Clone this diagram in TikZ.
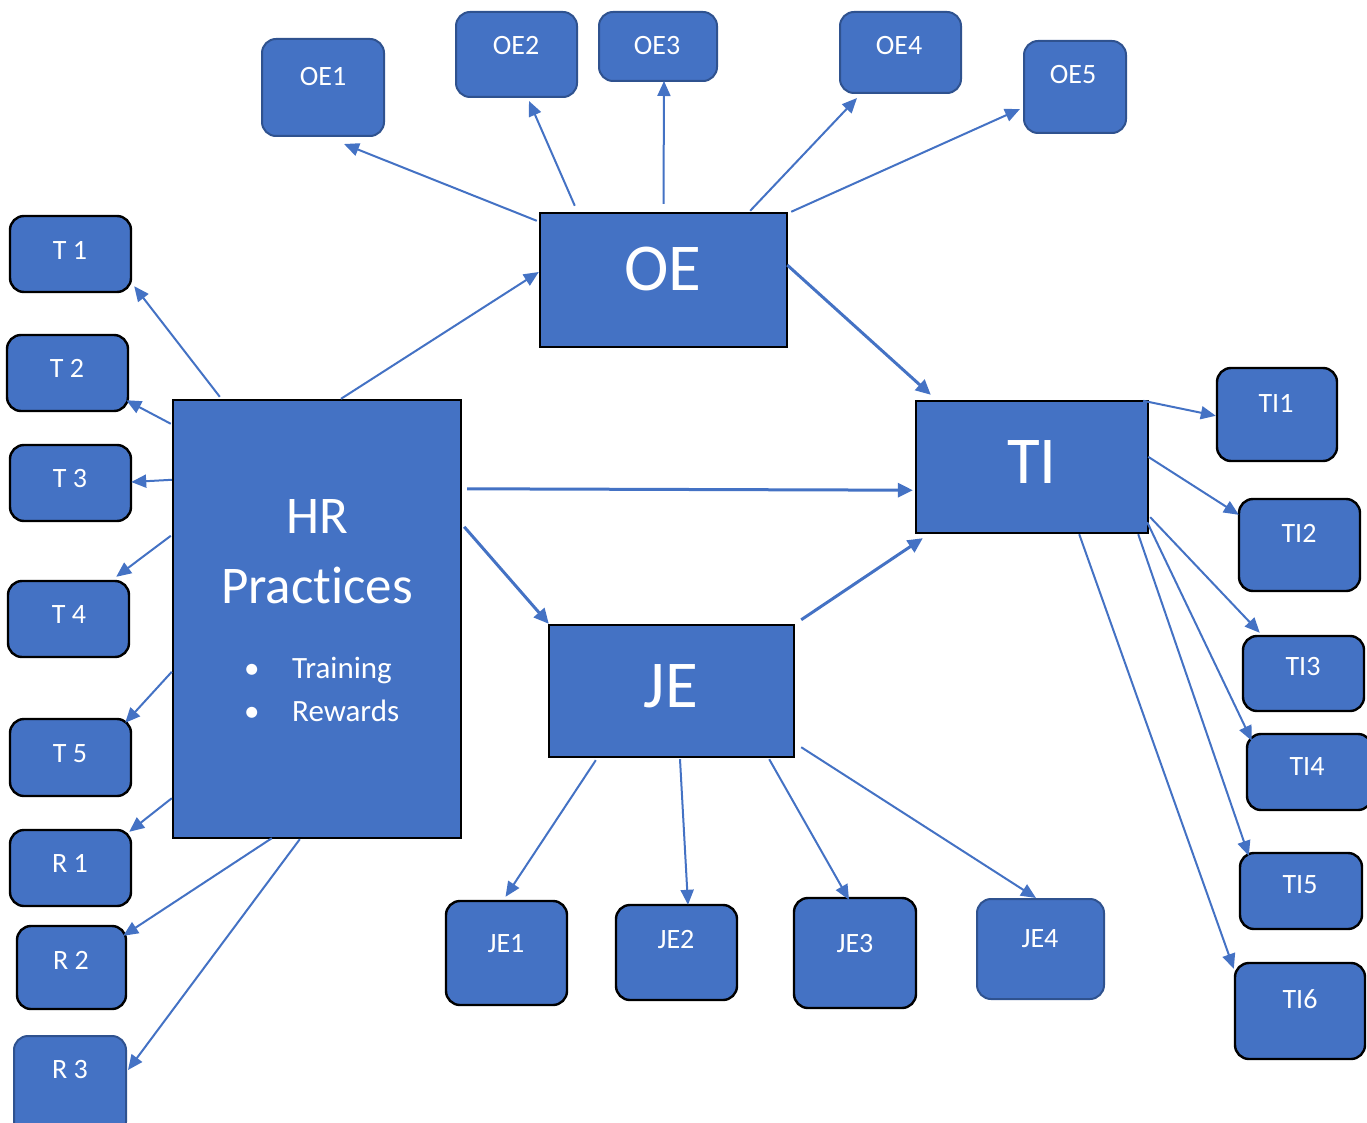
\documentclass[tikz,border=0pt]{standalone}
\usepackage{fontspec}
\setmainfont[Ligatures=CommonOff]{Carlito}
\usetikzlibrary{arrows.meta,calc}
\definecolor{bfill}{HTML}{4472C4}
\definecolor{bdark}{HTML}{2F528F}
\tikzset{
  sbk/.style={draw=black, line width=2.4pt, fill=bfill, rounded corners=14pt, inner sep=0pt},
  sbl/.style={draw=bdark, line width=2pt, fill=bfill, rounded corners=14pt, inner sep=0pt},
  bigbox/.style={draw=black, line width=2.4pt, fill=bfill, inner sep=0pt},
  lbl/.style={text=white, anchor=base, inner sep=0pt, font=\fontsize{28}{28}\selectfont},
  biglbl/.style={text=white, anchor=base, inner sep=0pt, font=\fontsize{67}{67}\selectfont},
  hrlbl/.style={text=white, anchor=base, inner sep=0pt, font=\fontsize{53}{53}\selectfont},
  itemlbl/.style={text=white, anchor=base west, inner sep=0pt, font=\fontsize{31}{31}\selectfont},
  arr/.style={draw=bfill, line width=2pt, -{Triangle[length=15pt,width=13pt]}},
  tarr/.style={draw=bfill, line width=3pt, -{Triangle[length=15pt,width=14pt]}},
}
\newcommand{\bx}[6]{% style, name, x1, y1, x2, y2
  \node[#1, minimum width={(#5-#3)*1pt}, minimum height={(#6-#4)*1pt}] (#2) at ({(#3+#5)/2},{(#4+#6)/2}) {};}
\begin{document}
\begin{tikzpicture}[x=1pt,y=-1pt]
\useasboundingbox (0,0) rectangle (1367,1123);
% big boxes
\bx{bigbox}{oe}{540}{213}{787}{347}
\bx{bigbox}{hr}{173}{400}{461}{838}
\bx{bigbox}{ti}{916}{401}{1148}{533}
\bx{bigbox}{je}{549}{625}{794}{757}
% OE boxes
\bx{sbl}{oe1}{262}{39}{384}{136}
\bx{sbl}{oe2}{456}{12}{577}{97}
\bx{sbl}{oe3}{599}{12}{717}{81}
\bx{sbl}{oe4}{840}{12}{961}{93}
\bx{sbl}{oe5}{1024}{41}{1126}{133}
% T / R boxes
\bx{sbk}{t1}{10}{216}{131}{292}
\bx{sbk}{t2}{7}{335}{128}{411}
\bx{sbk}{t3}{10}{445}{131}{521}
\bx{sbk}{t4}{8}{581}{129}{657}
\bx{sbk}{t5}{10}{719}{131}{796}
\bx{sbk}{r1}{10}{830}{131}{906}
\bx{sbk}{r2}{17}{926}{126}{1009}
\bx{sbl}{r3}{14}{1036}{126}{1136}
% TI boxes
\bx{sbk}{ti1}{1217}{368}{1337}{461}
\bx{sbk}{ti2}{1239}{499}{1360}{591}
\bx{sbk}{ti3}{1243}{636}{1364}{711}
\bx{sbk}{ti4}{1247}{734}{1372}{810}
\bx{sbk}{ti5}{1240}{853}{1362}{929}
\bx{sbk}{ti6}{1235}{963}{1365}{1059}
% JE boxes
\bx{sbk}{je1}{446}{901}{567}{1005}
\bx{sbk}{je2}{616}{905}{737}{1000}
\bx{sbk}{je3}{794}{898}{916}{1008}
\bx{sbl}{je4}{977}{899}{1104}{999}
% labels
\node[biglbl] (oel) at (663,290) {OE};
\node[biglbl] (til) at (1032,483) {TI};
\node[biglbl] (jel) at (671,707) {JE};
\node[hrlbl] (hrl1) at (317,533) {HR};
\node[hrlbl] (hrl2) at (317,603) {Practices};
\node[itemlbl] (b1) at (244,678) {•};
\node[itemlbl] (b2) at (244,721) {•};
\node[itemlbl] (i1) at (292,678) {Training};
\node[itemlbl] (i2) at (292,721) {Rewards};
\node[lbl] (oe1l) at (323,86) {OE1};
\node[lbl] (oe2l) at (516,55) {OE2};
\node[lbl] (oe3l) at (657,55) {OE3};
\node[lbl] (oe4l) at (899,55) {OE4};
\node[lbl] (oe5l) at (1073,84) {OE5};
\node[lbl] (t1l) at (70,259) {T 1};
\node[lbl] (t2l) at (67,377) {T 2};
\node[lbl] (t3l) at (70,487) {T 3};
\node[lbl] (t4l) at (69,623) {T 4};
\node[lbl] (t5l) at (70,762) {T 5};
\node[lbl] (r1l) at (70,872) {R 1};
\node[lbl] (r2l) at (71,969) {R 2};
\node[lbl] (r3l) at (70,1078) {R 3};
\node[lbl] (ti1l) at (1276,412) {TI1};
\node[lbl] (ti2l) at (1299,542) {TI2};
\node[lbl] (ti3l) at (1303,675) {TI3};
\node[lbl] (ti4l) at (1307,775) {TI4};
\node[lbl] (ti5l) at (1300,893) {TI5};
\node[lbl] (ti6l) at (1300,1008) {TI6};
\node[lbl] (je1l) at (506,952) {JE1};
\node[lbl] (je2l) at (676,948) {JE2};
\node[lbl] (je3l) at (855,952) {JE3};
\node[lbl] (je4l) at (1040,947) {JE4};
% OE arrows
\draw[arr] ($(oe.north west)+(-2,9)$) -- ($(oe1.south west)+(83,7)$);
\draw[arr] ($(oe.north west)+(36,-6)$) -- ($(oe2.south west)+(74,3)$);
\draw[arr] ($(oe.north)+(0,-8)$) -- ($(oe3.south)+(6,-1)$);
\draw[arr] ($(oe.north east)+(-38,-1)$) -- ($(oe4.south west)+(18,4)$);
\draw[arr] ($(oe.north east)+(3,0)$) -- ($(oe5.south west)+(-3,-25)$);
\draw[tarr] ($(oe.east)+(-1,-15)$) -- ($(ti.north west)+(16,-5)$);
% HR arrows
\draw[arr] ($(hr.north)+(24,0)$) -- ($(oe.west)+(0,-8)$);
\draw[arr] ($(hr.north west)+(48,-2)$) -- ($(t1.south east)+(2,-7)$);
\draw[arr] ($(hr.north west)+(-1,25)$) -- ($(t2.south east)+(-3,-12)$);
\draw[arr] ($(hr.north west)+(0,81)$) -- ($(t3.east)+(-1,-1)$);
\draw[arr] ($(hr.north west)+(-1,137)$) -- ($(t4.north east)+(-14,-3)$);
\draw[arr] ($(hr.north west)+(0,273)$) -- ($(t5.north east)+(-7,5)$);
\draw[arr] ($(hr.south west)+(0,-41)$) -- ($(r1.north east)+(-3,3)$);
\draw[arr] ($(hr.south west)+(100,-1)$) -- ($(r2.north east)+(-4,11)$);
\draw[arr] ($(hr.south west)+(128,0)$) -- ($(r3.north east)+(1,35)$);
\draw[tarr] ($(hr.north east)+(5,90)$) -- ($(ti.south west)+(-2,-44)$);
\draw[tarr] ($(hr.north east)+(2,128)$) -- ($(je.north west)+(1,0)$);
% JE arrows
\draw[tarr] ($(je.north east)+(6,-4)$) -- ($(ti.south west)+(8,4)$);
\draw[arr] ($(je.south west)+(48,2)$) -- ($(je1.north)+(-1,-3)$);
\draw[arr] ($(je.south)+(8.5,1)$) -- ($(je2.north)+(11.5,1)$);
\draw[arr] ($(je.south east)+(-26,1)$) -- ($(je3.north)+(-6,3)$);
\draw[arr] ($(je.south east)+(6,-11)$) -- ($(je4.north)+(-4.5,0)$);
% TI arrows
\draw[arr] ($(ti.north east)+(-6,1)$) -- ($(ti1.north west)+(0,49)$);
\draw[arr] ($(ti.north east)+(-1,57)$) -- ($(ti2.north west)+(1,17)$);
\draw[arr] ($(ti.south east)+(1,-17)$) -- ($(ti3.north west)+(18,-2)$);
\draw[arr] ($(ti.south east)+(-2,-12)$) -- ($(ti4.north west)+(6,8)$);
\draw[arr] ($(ti.south east)+(-11,0)$) -- ($(ti5.north west)+(10,4)$);
\draw[arr] ($(ti.south east)+(-70,0)$) -- ($(ti6.north west)+(0,7)$);
\end{tikzpicture}
\end{document}
